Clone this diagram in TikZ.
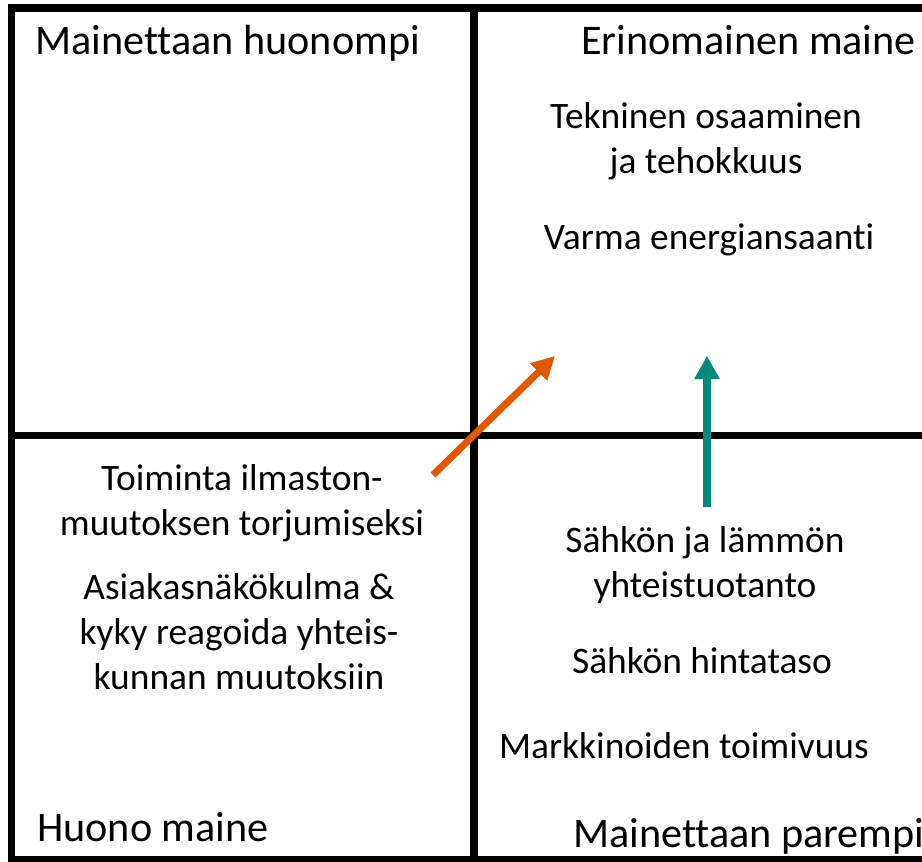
\documentclass[tikz,border=0pt]{standalone}
\usepackage{fontspec}
\setmainfont{Carlito}[Ligatures=NoCommon]
\usetikzlibrary{arrows.meta}
\definecolor{oranssi}{RGB}{224,88,0}
\definecolor{turkoosi}{RGB}{0,137,122}
\tikzset{
	otsikko/.style={anchor=base west, inner sep=0pt, font=\fontsize{42.2}{50}\selectfont},
	teksti/.style={align=center, inner sep=0pt, font=\fontsize{37.4}{45}\selectfont},
	raja/.style={line width=7.5pt, line join=miter},
}
\begin{document}
\begin{tikzpicture}[x=1pt, y=-1pt, >=Triangle]
			\useasboundingbox (0,0) rectangle (922,862);
			\def\vas{11.5} \def\kes{474} \def\oik{930}
			\def\yla{8} \def\vaaka{435.5} \def\ala{859.5}
			\path (\vas,\yla) coordinate (VY) (\oik,\yla) coordinate (OY)
			(\vas,\ala) coordinate (VA) (\oik,\ala) coordinate (OA)
			(\kes,\yla) coordinate (KY) (\kes,\ala) coordinate (KA)
			(\vas,\vaaka) coordinate (VK) (\oik,\vaaka) coordinate (OK);
			\draw[raja] (OY)--(VY)--(VA)--(OA)
			(KY)--(KA) (VK)--(OK);
			% nelikentan otsikot
			\node[otsikko] (huonompi) at (35,54) {Mainettaan huonompi};
			\node[otsikko] (erinomainen) at (581,54) {Erinomainen maine};
			\node[otsikko] (huono) at (37,841) {Huono maine};
			\node[otsikko] (parempi) at (573,847) {Mainettaan parempi};
			% tekijat
			\node[teksti] (tekninen) at (706,141) {Tekninen osaaminen\\ja tehokkuus};
			\node[teksti] (varma) at (709,240) {Varma energiansaanti};
			\node[teksti] (ilmasto) at (242,503) {Toiminta ilmaston-\\muutoksen torjumiseksi};
			\node[teksti] (asiakas) at (239,632) {Asiakasnäkökulma \&\\kyky reagoida yhteis-\\kunnan muutoksiin};
			\node[teksti] (yhteis) at (705,565) {Sähkön ja lämmön\\yhteistuotanto};
			\node[teksti] (hinta) at (702,661) {Sähkön hintataso};
			\node[teksti] (markkina) at (684,746) {Markkinoiden toimivuus};
			% nuolet
			\path (433,475) coordinate (O1) (555,356) coordinate (O2)
			(707,507) coordinate (T1) (707,356) coordinate (T2);
			\draw[oranssi, line width=7pt, -{Triangle[length=23pt,width=23pt]}] (O1)--(O2);
			\draw[turkoosi, line width=8pt, -{Triangle[length=23pt,width=24pt]}] (T1)--(T2);
		\end{tikzpicture}
\end{document}
